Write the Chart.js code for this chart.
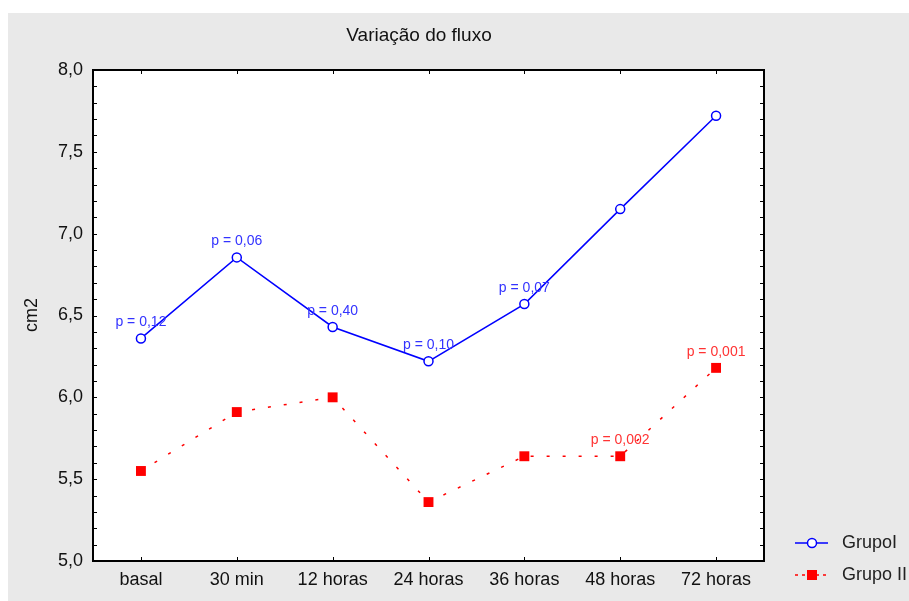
<!DOCTYPE html>
<html>
<head>
<meta charset="utf-8">
<script src="https://cdn.jsdelivr.net/npm/chart.js@4"></script>
<style>
  body { margin: 0; background: #fff; }
  #wrap { position: absolute; left: 8px; top: 13px; width: 901px; height: 588px; background: #e9e9e9; }
</style>
</head>
<body>
<div id="wrap"><canvas id="chart" width="901" height="588"></canvas></div>
<script>
'use strict';

let canvasElem = document.getElementById('chart');

let categories = ['basal', '30 min', '12 horas', '24 horas', '36 horas', '48 horas', '72 horas'];
let grupoI = [6.36, 6.855, 6.43, 6.22, 6.57, 7.15, 7.72];
let grupoII = [5.55, 5.91, 6.0, 5.36, 5.64, 5.64, 6.18];
let labelsI = ['p = 0,12', 'p = 0,06', 'p = 0,40', 'p = 0,10', 'p = 0,07', '', ''];
let labelsII = ['', '', '', '', '', 'p = 0,002', 'p = 0,001'];
let yTicks = [5.0, 5.5, 6.0, 6.5, 7.0, 7.5, 8.0];

const FONT = '"Liberation Sans", Arial, sans-serif';

// white plot area
const plotBg = {
  id: 'plotBg',
  beforeDraw(chart) {
    let a = chart.chartArea;
    chart.ctx.save();
    chart.ctx.fillStyle = '#fff';
    chart.ctx.fillRect(a.left, a.top, a.right - a.left, a.bottom - a.top);
    chart.ctx.restore();
  }
};

// frame, inner ticks, titles, point labels and legend
const decor = {
  id: 'decor',
  afterDatasetsDraw(chart) {
    let ctx = chart.ctx;
    let a = chart.chartArea;
    let x = chart.scales.x, y = chart.scales.y;
    ctx.save();
    ctx.strokeStyle = '#000';
    ctx.lineWidth = 1;
    ctx.beginPath();
    for (let v = 50; v <= 80; v++) {
      let py = Math.round(y.getPixelForValue(v / 10)) + 0.5;
      ctx.moveTo(a.left, py); ctx.lineTo(a.left + 4, py);
      ctx.moveTo(a.right, py); ctx.lineTo(a.right - 4, py);
    }
    for (let i = 0; i < categories.length; i++) {
      let px = Math.round(x.getPixelForValue(i)) + 0.5;
      ctx.moveTo(px, a.bottom); ctx.lineTo(px, a.bottom - 4);
      ctx.moveTo(px, a.top); ctx.lineTo(px, a.top + 4);
    }
    ctx.stroke();
    ctx.lineWidth = 2;
    ctx.strokeRect(a.left, a.top, a.right - a.left, a.bottom - a.top);

    // p labels
    ctx.font = '14px ' + FONT;
    ctx.textAlign = 'center';
    ctx.textBaseline = 'middle';
    ctx.fillStyle = '#3333ff';
    labelsI.forEach((t, i) => {
      if (t) ctx.fillText(t, x.getPixelForValue(i), y.getPixelForValue(grupoI[i]) - 16);
    });
    ctx.fillStyle = '#ff3333';
    labelsII.forEach((t, i) => {
      if (t) ctx.fillText(t, x.getPixelForValue(i), y.getPixelForValue(grupoII[i]) - 16);
    });

    // titles
    ctx.fillStyle = '#111';
    ctx.font = '19px ' + FONT;
    ctx.fillText('Variação do fluxo', 411, 23);
    ctx.save();
    ctx.translate(24, 302);
    ctx.rotate(-Math.PI / 2);
    ctx.font = '18px ' + FONT;
    ctx.fillText('cm2', 0, 0);
    ctx.restore();

    // legend
    let lx = 787, ly1 = 530, ly2 = 562;
    ctx.strokeStyle = '#0000ff';
    ctx.lineWidth = 1.5;
    ctx.beginPath();
    ctx.moveTo(lx, ly1); ctx.lineTo(lx + 33, ly1);
    ctx.stroke();
    ctx.beginPath();
    ctx.arc(lx + 17, ly1, 4.5, 0, Math.PI * 2);
    ctx.fillStyle = '#fff';
    ctx.fill();
    ctx.stroke();
    ctx.strokeStyle = '#ff0000';
    ctx.setLineDash([3, 4]);
    ctx.beginPath();
    ctx.moveTo(lx, ly2); ctx.lineTo(lx + 33, ly2);
    ctx.stroke();
    ctx.setLineDash([]);
    ctx.fillStyle = '#ff0000';
    ctx.fillRect(lx + 12, ly2 - 5, 10, 10);
    ctx.fillStyle = '#222';
    ctx.font = '18px ' + FONT;
    ctx.textAlign = 'left';
    ctx.fillText('GrupoI', lx + 47, ly1);
    ctx.fillText('Grupo II', lx + 47, ly2);
    ctx.restore();
  }
};

new Chart(canvasElem, {
  type: 'line',
  data: {
    labels: categories,
    datasets: [{
      label: 'GrupoI',
      data: grupoI,
      borderColor: '#0000ff',
      borderWidth: 1.5,
      pointStyle: 'circle',
      pointRadius: 4.5,
      pointBorderWidth: 1.5,
      pointBackgroundColor: '#fff',
      pointBorderColor: '#0000ff',
      tension: 0
    },
    {
      label: 'Grupo II',
      data: grupoII,
      borderColor: '#ff0000',
      borderWidth: 1.5,
      borderDash: [3, 13],
      pointStyle: 'rect',
      pointRadius: 7,
      pointBorderWidth: 0,
      pointBackgroundColor: '#ff0000',
      pointBorderColor: '#ff0000',
      tension: 0
    }]
  },
  options: {
    responsive: false,
    animation: false,
    layout: { padding: { top: 57, right: 145, left: 0, bottom: 0 } },
    plugins: { legend: { display: false }, tooltip: { enabled: false } },
    scales: {
      x: {
        offset: true,
        grid: { display: false, drawTicks: false },
        border: { display: false },
        ticks: { color: '#111', font: { size: 18, family: FONT }, padding: 8, maxRotation: 0 },
        afterFit: s => { s.height = 40; }
      },
      y: {
        min: 5,
        max: 8,
        afterBuildTicks: s => { s.ticks = yTicks.map(v => ({ value: v })); },
        grid: { display: false, drawTicks: false },
        border: { display: false },
        ticks: {
          color: '#111',
          font: { size: 18, family: FONT },
          padding: 10,
          callback: v => v.toFixed(1).replace('.', ',')
        },
        afterFit: s => { s.width = 85; }
      }
    }
  },
  plugins: [plotBg, decor]
});
</script>
</body>
</html>
